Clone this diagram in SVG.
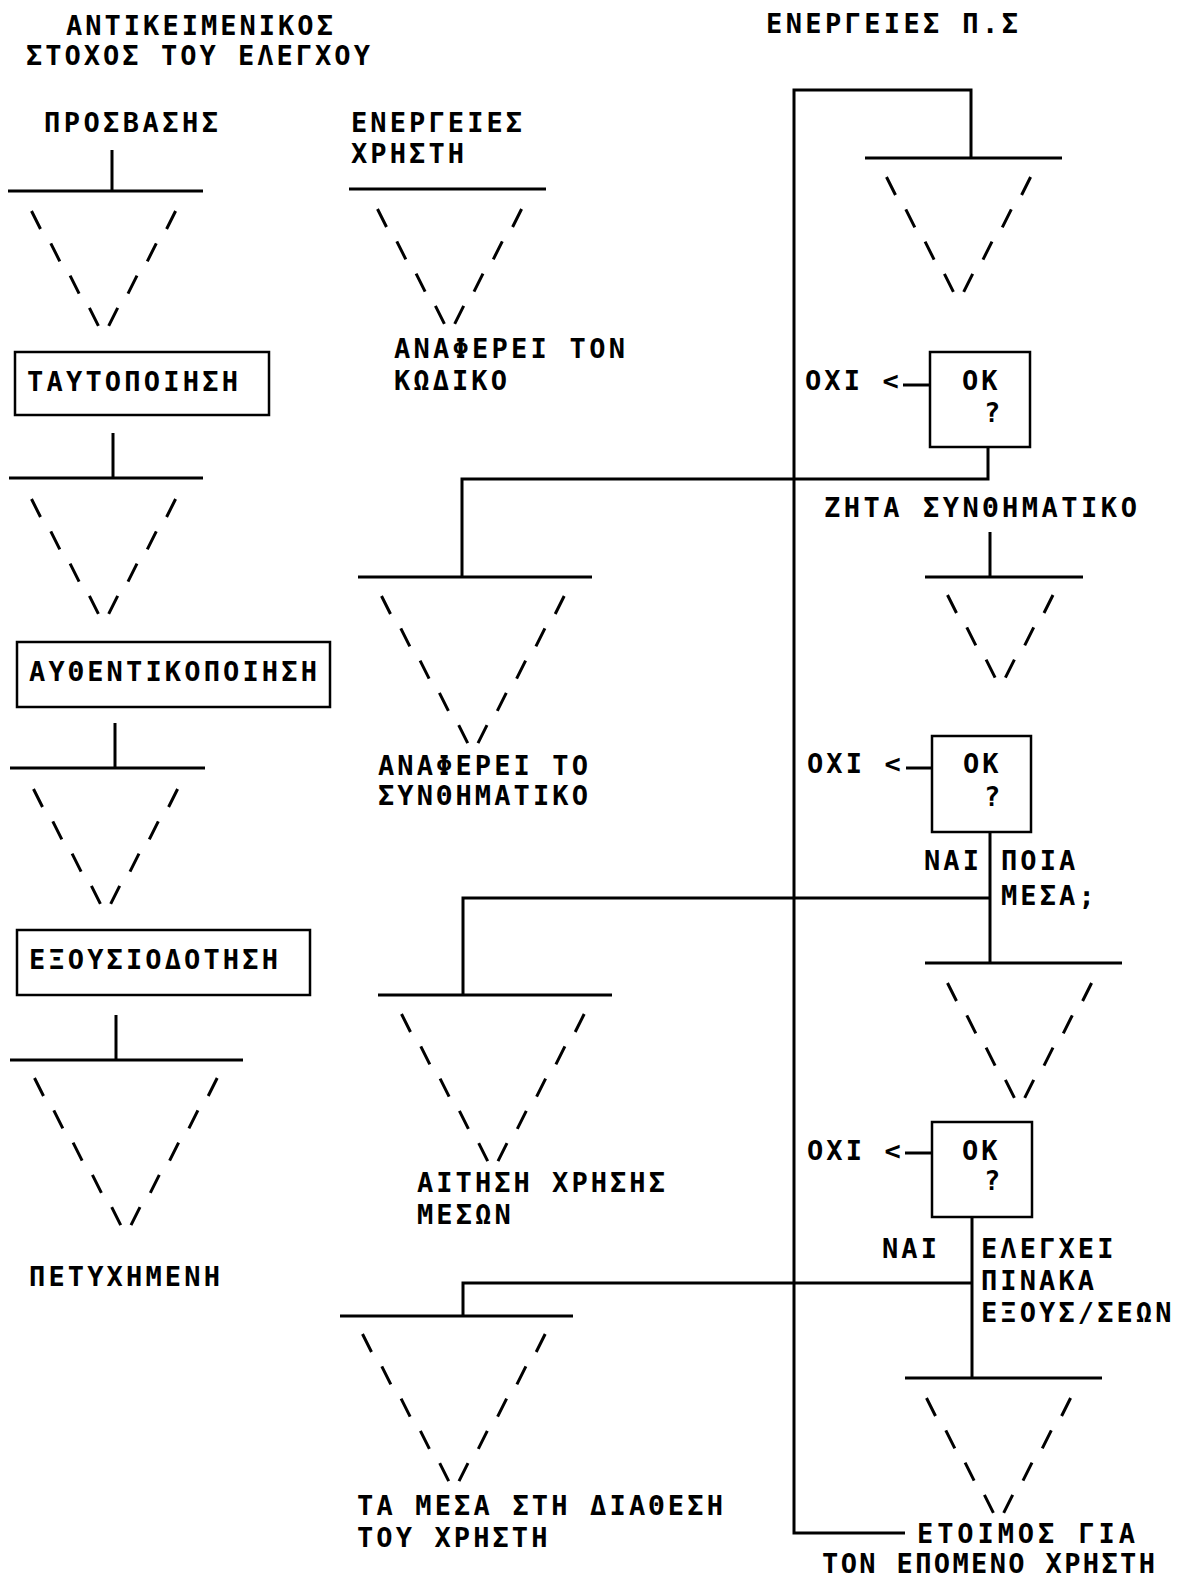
<svg xmlns="http://www.w3.org/2000/svg" width="1179" height="1579" viewBox="0 0 1179 1579">
<style>
.t{font-family:"DejaVu Sans Mono","Liberation Mono",monospace;font-weight:bold;font-size:27px;letter-spacing:3.1px;fill:#000}
.ln{stroke:#000;stroke-width:3;fill:none}
.box{stroke:#000;stroke-width:2.5;fill:#fff}
.bar{stroke:#000;stroke-width:3}
.dash{stroke:#000;stroke-width:3;fill:none}
</style>
<defs>
<path id="f3" class="dash" d="M-4.5,-9l9,18M101,-9l-9,18M14.8,23.3l9,18M81.7,23.3l-9,18M34.1,55.6l9,18M62.4,55.6l-9,18"/>
<path id="f4" class="dash" d="M-4.5,-9l9,18M139.6,-9l-9,18M14.8,23.3l9,18M120.3,23.3l-9,18M34.1,55.6l9,18M101,55.6l-9,18M53.4,87.9l9,18M81.7,87.9l-9,18"/>
<path id="f5" class="dash" d="M-4.5,-9l9,18M178.2,-9l-9,18M14.8,23.3l9,18M158.9,23.3l-9,18M34.1,55.6l9,18M139.6,55.6l-9,18M53.4,87.9l9,18M120.3,87.9l-9,18M72.7,120.2l9,18M101,120.2l-9,18"/>
</defs>
<rect width="1179" height="1579" fill="#fff"/>

<g id="headers">
<text class="t" x="66" y="35" textLength="270" lengthAdjust="spacing">ΑΝΤΙΚΕΙΜΕΝΙΚΟΣ</text>
<text class="t" x="26" y="65" textLength="347" lengthAdjust="spacing">ΣΤΟΧΟΣ ΤΟΥ ΕΛΕΓΧΟΥ</text>
<text class="t" x="766" y="33" textLength="255" lengthAdjust="spacing">ΕΝΕΡΓΕΙΕΣ Π.Σ</text>
</g>

<g id="connectors">
<path class="ln" d="M112,150V191"/>
<path class="ln" d="M113,433V478"/>
<path class="ln" d="M115,723V768"/>
<path class="ln" d="M116,1015V1060"/>
<path class="ln" d="M905,1533H794V90H971V158"/>
<path class="ln" d="M988,447V479H462V577"/>
<path class="ln" d="M990,532V577"/>
<path class="ln" d="M990,832V963"/>
<path class="ln" d="M990,898H463V995"/>
<path class="ln" d="M972,1217V1378"/>
<path class="ln" d="M972,1283H463V1316"/>
<path class="ln" d="M903,385H930"/>
<path class="ln" d="M906,768H932"/>
<path class="ln" d="M905,1153H932"/>
</g>

<g id="n-prosvasis"><text class="t" x="44" y="132" textLength="177" lengthAdjust="spacing">ΠΡΟΣΒΑΣΗΣ</text></g>
<g id="f-1"><line class="bar" x1="8" y1="191" x2="203" y2="191"/><use href="#f4" x="36" y="220"/></g>
<g id="n-taytopoiisi"><rect class="box" x="15" y="352" width="254" height="63"/><text class="t" x="27" y="391" textLength="214" lengthAdjust="spacing">ΤΑΥΤΟΠΟΙΗΣΗ</text></g>
<g id="f-2"><line class="bar" x1="9" y1="478" x2="203" y2="478"/><use href="#f4" x="36" y="508"/></g>
<g id="n-afthentikopoiisi"><rect class="box" x="17" y="642" width="313" height="65"/><text class="t" x="29" y="681" textLength="291" lengthAdjust="spacing">ΑΥΘΕΝΤΙΚΟΠΟΙΗΣΗ</text></g>
<g id="f-3"><line class="bar" x1="10" y1="768" x2="205" y2="768"/><use href="#f4" x="38" y="798"/></g>
<g id="n-exousiodotisi"><rect class="box" x="17" y="930" width="293" height="65"/><text class="t" x="29" y="969" textLength="252" lengthAdjust="spacing">ΕΞΟΥΣΙΟΔΟΤΗΣΗ</text></g>
<g id="f-4"><line class="bar" x1="10" y1="1060" x2="243" y2="1060"/><use href="#f5" x="39" y="1087"/></g>
<g id="n-petyximeni"><text class="t" x="29" y="1286" textLength="194" lengthAdjust="spacing">ΠΕΤΥΧΗΜΕΝΗ</text></g>

<g id="n-energeies-xristi"><text class="t" x="351" y="132">ΕΝΕΡΓΕΙΕΣ</text><text class="t" x="351" y="163">ΧΡΗΣΤΗ</text></g>
<g id="f-5"><line class="bar" x1="349" y1="189" x2="546" y2="189"/><use href="#f4" x="382" y="218"/></g>
<g id="n-anaferei-kodiko"><text class="t" x="394" y="358" textLength="234" lengthAdjust="spacing">ΑΝΑΦΕΡΕΙ ΤΟΝ</text><text class="t" x="394" y="390" textLength="116" lengthAdjust="spacing">ΚΩΔΙΚΟ</text></g>
<g id="f-6"><line class="bar" x1="358" y1="577" x2="592" y2="577"/><use href="#f5" x="386" y="605"/></g>
<g id="n-anaferei-synthimatiko"><text class="t" x="378" y="775" textLength="213" lengthAdjust="spacing">ΑΝΑΦΕΡΕΙ ΤΟ</text><text class="t" x="378" y="805" textLength="213" lengthAdjust="spacing">ΣΥΝΘΗΜΑΤΙΚΟ</text></g>
<g id="f-7"><line class="bar" x1="378" y1="995" x2="612" y2="995"/><use href="#f5" x="406" y="1023"/></g>
<g id="n-aitisi"><text class="t" x="417" y="1192" textLength="251" lengthAdjust="spacing">ΑΙΤΗΣΗ ΧΡΗΣΗΣ</text><text class="t" x="417" y="1224">ΜΕΣΩΝ</text></g>
<g id="f-8"><line class="bar" x1="340" y1="1316" x2="573" y2="1316"/><use href="#f5" x="367" y="1343"/></g>
<g id="n-ta-mesa"><text class="t" x="357" y="1515" textLength="369" lengthAdjust="spacing">ΤΑ ΜΕΣΑ ΣΤΗ ΔΙΑΘΕΣΗ</text><text class="t" x="357" y="1547">ΤΟΥ ΧΡΗΣΤΗ</text></g>

<g id="f-9"><line class="bar" x1="865" y1="158" x2="1062" y2="158"/><use href="#f4" x="891" y="186"/></g>
<g id="n-ok1"><rect class="box" x="930" y="352" width="100" height="95"/><text class="t" x="962" y="390">ΟΚ</text><text class="t" x="984" y="422">?</text><text class="t" x="805" y="390">ΟΧΙ &lt;</text></g>
<g id="n-zita"><text class="t" x="824" y="517" textLength="316" lengthAdjust="spacing">ΖΗΤΑ ΣΥΝΘΗΜΑΤΙΚΟ</text></g>
<g id="f-10"><line class="bar" x1="925" y1="577" x2="1083" y2="577"/><use href="#f3" x="952" y="604"/></g>
<g id="n-ok2"><rect class="box" x="932" y="736" width="99" height="96"/><text class="t" x="963" y="773">ΟΚ</text><text class="t" x="984" y="806">?</text><text class="t" x="807" y="773">ΟΧΙ &lt;</text></g>
<g id="n-poia-mesa"><text class="t" x="924" y="870">ΝΑΙ</text><text class="t" x="1001" y="870">ΠΟΙΑ</text><text class="t" x="1001" y="905">ΜΕΣΑ;</text></g>
<g id="f-11"><line class="bar" x1="925" y1="963" x2="1122" y2="963"/><use href="#f4" x="952" y="992"/></g>
<g id="n-ok3"><rect class="box" x="932" y="1122" width="100" height="95"/><text class="t" x="962" y="1160">ΟΚ</text><text class="t" x="984" y="1190">?</text><text class="t" x="807" y="1160">ΟΧΙ &lt;</text></g>
<g id="n-elegxei"><text class="t" x="882" y="1258">ΝΑΙ</text><text class="t" x="981" y="1258">ΕΛΕΓΧΕΙ</text><text class="t" x="981" y="1290">ΠΙΝΑΚΑ</text><text class="t" x="981" y="1322">ΕΞΟΥΣ/ΣΕΩΝ</text></g>
<g id="f-12"><line class="bar" x1="905" y1="1378" x2="1102" y2="1378"/><use href="#f4" x="931" y="1407"/></g>
<g id="n-etoimos"><text class="t" x="917" y="1543" textLength="221" lengthAdjust="spacing">ΕΤΟΙΜΟΣ ΓΙΑ</text><text class="t" x="822" y="1573" textLength="336" lengthAdjust="spacing">ΤΟΝ ΕΠΟΜΕΝΟ ΧΡΗΣΤΗ</text></g>
</svg>
